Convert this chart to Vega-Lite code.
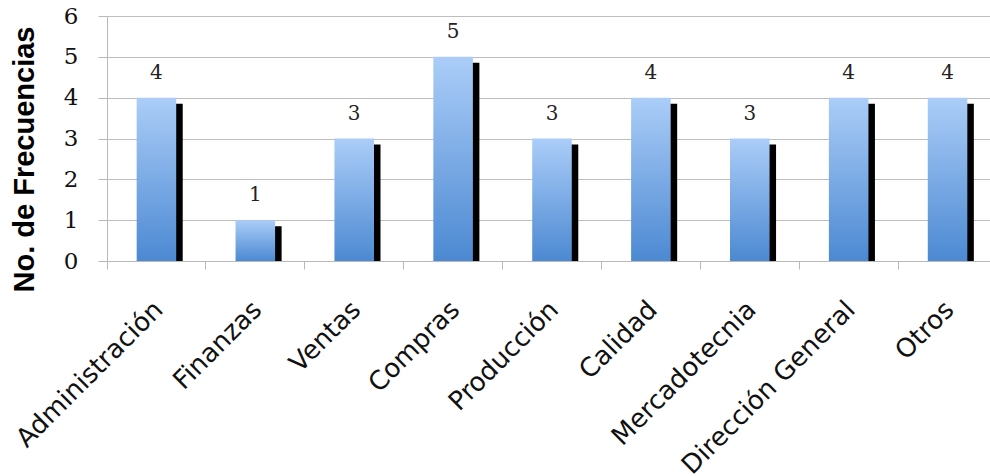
{
  "$schema": "https://vega.github.io/schema/vega-lite/v6.json",
  "autosize": {"type": "none"},
  "padding": {"left": 107, "top": 16, "right": 0, "bottom": 215},
  "width": 883,
  "height": 245,
  "background": "white",
  "data": {
    "values": [
      {"area": "Administración", "frecuencia": 4},
      {"area": "Finanzas", "frecuencia": 1},
      {"area": "Ventas", "frecuencia": 3},
      {"area": "Compras", "frecuencia": 5},
      {"area": "Producción", "frecuencia": 3},
      {"area": "Calidad", "frecuencia": 4},
      {"area": "Mercadotecnia", "frecuencia": 3},
      {"area": "Dirección General", "frecuencia": 4},
      {"area": "Otros", "frecuencia": 4}
    ]
  },
  "encoding": {
    "x": {
      "field": "area",
      "type": "nominal",
      "sort": null,
      "scale": {"range": [0, 890], "paddingInner": 0, "paddingOuter": 0},
      "axis": {
        "title": null,
        "bandPosition": 0,
        "labelAngle": -45,
        "labelAlign": "right",
        "labelBaseline": "top",
        "labelOffset": -7,
        "labelFont": "DejaVu Sans",
        "labelFontSize": 26,
        "labelColor": "#111111",
        "labelPadding": 27,
        "labelOverlap": false,
        "labelLimit": 400,
        "ticks": true,
        "tickSize": 8,
        "tickColor": "#b8b8b8",
        "domainColor": "#b8b8b8",
        "grid": false
      }
    },
    "y": {
      "field": "frecuencia",
      "type": "quantitative",
      "scale": {"domain": [0, 6], "nice": false},
      "axis": {
        "values": [0, 1, 2, 3, 4, 5, 6],
        "title": "No. de Frecuencias",
        "titleFont": "Liberation Sans",
        "titleFontSize": 29,
        "titleFontWeight": "bold",
        "titleColor": "#000000",
        "titleAngle": -90,
        "titleAlign": "center",
        "titleBaseline": "alphabetic",
        "titleX": -74,
        "titleY": 143,
        "labelFont": "DejaVu Serif",
        "labelFontSize": 23,
        "labelColor": "#111111",
        "labelPadding": 20,
        "tickSize": 9,
        "tickColor": "#b8b8b8",
        "domainColor": "#b8b8b8",
        "gridColor": "#bdbdbd",
        "grid": true
      }
    }
  },
  "layer": [
    {
      "mark": {
        "type": "bar",
        "color": "#000000",
        "width": {"band": 0.4},
        "xOffset": 6.5,
        "yOffset": 6,
        "clip": true
      }
    },
    {
      "mark": {
        "type": "bar",
        "width": {"band": 0.4},
        "color": {
          "gradient": "linear",
          "x1": 0, "y1": 0, "x2": 0, "y2": 1,
          "stops": [
            {"offset": 0, "color": "#abcdf8"},
            {"offset": 1, "color": "#4c89d2"}
          ]
        }
      }
    },
    {
      "mark": {
        "type": "text",
        "font": "DejaVu Serif",
        "fontSize": 20,
        "color": "#222222",
        "baseline": "alphabetic",
        "dy": -19
      },
      "encoding": {"text": {"field": "frecuencia", "type": "quantitative"}}
    }
  ],
  "config": {"view": {"stroke": null}}
}
